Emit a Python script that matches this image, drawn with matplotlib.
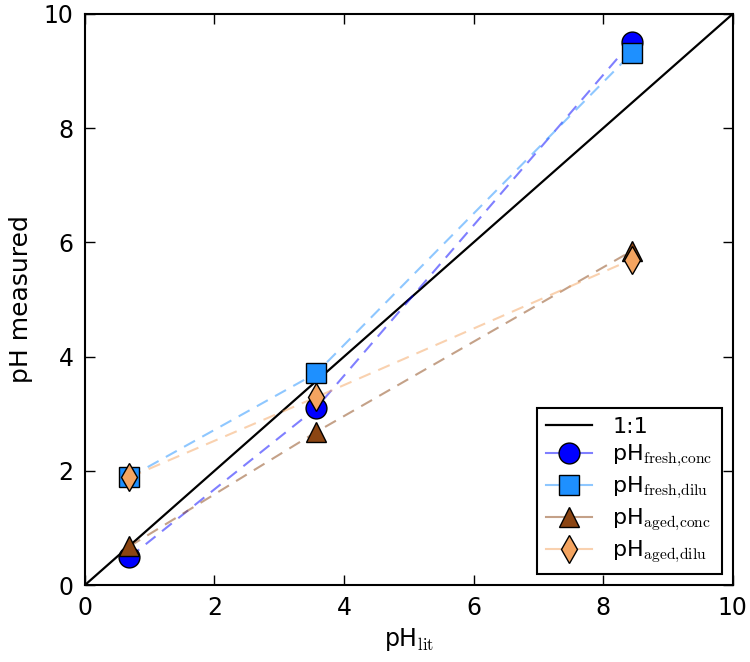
import numpy as np
import matplotlib
matplotlib.use("Agg")
import matplotlib.pyplot as plt
from matplotlib.colors import to_rgba

plt.rcParams['mathtext.fontset'] = 'cm'
plt.rcParams['font.family'] = ['DejaVu Sans']

# pH from literature (x) and measured pH for each sample type
ph_lit = [0.69, 3.57, 8.44]
ph_fresh_conc = [0.49, 3.10, 9.51]
ph_fresh_dilu = [1.89, 3.71, 9.31]
ph_aged_conc = [0.68, 2.68, 5.85]
ph_aged_dilu = [1.89, 3.29, 5.70]

series = [
    (ph_fresh_conc, r'pH$_{\mathrm{fresh{,}conc}}$', 'o', '#0000ff', 15),
    (ph_fresh_dilu, r'pH$_{\mathrm{fresh{,}dilu}}$', 's', '#1e90ff', 14),
    (ph_aged_conc, r'pH$_{\mathrm{aged{,}conc}}$', '^', '#8b4513', 15),
    (ph_aged_dilu, r'pH$_{\mathrm{aged{,}dilu}}$', 'd', '#f4a460', 14),
]

fig = plt.figure(figsize=(7.5, 6.62), dpi=100)
ax = fig.add_axes([0.113, 0.116, 0.864, 0.863])

ax.plot([0, 10], [0, 10], color='black', lw=1.6, label='1:1', zorder=2)

for y, label, marker, color, ms in series:
    ax.plot(ph_lit, y, ls='--', dashes=(6, 4), color=to_rgba(color, 0.5),
            lw=1.5, zorder=2)
    ax.plot(ph_lit, y, ls='none', marker=marker, ms=ms, mfc=color, mec='black',
            mew=1.0, zorder=3)
    # legend proxy: faded line with solid marker in the middle
    ax.plot([], [], ls='-', color=to_rgba(color, 0.5), lw=1.5, marker=marker,
            ms=ms, mfc=color, mec='black', mew=1.0, label=label)

ax.set_xlim(0, 10)
ax.set_ylim(0, 10)
ax.set_xticks(range(0, 11, 2))
ax.set_yticks(range(0, 11, 2))
ax.tick_params(direction='in', top=True, right=True, length=7, width=1,
               labelsize=17, pad=8)
for s in ax.spines.values():
    s.set_linewidth(1.5)

ax.set_xlabel(r'pH$_{\mathrm{lit}}$', fontsize=17, labelpad=4)
ax.set_ylabel('pH measured', fontsize=18, labelpad=8)

leg = ax.legend(loc='lower right', fontsize=16, numpoints=1, fancybox=False,
                framealpha=1, edgecolor='black', handlelength=2.1,
                borderpad=0.4, labelspacing=0.25, handletextpad=0.9,
                borderaxespad=0.5)
leg.get_frame().set_linewidth(1.5)

fig.savefig('out.png', dpi=100)
